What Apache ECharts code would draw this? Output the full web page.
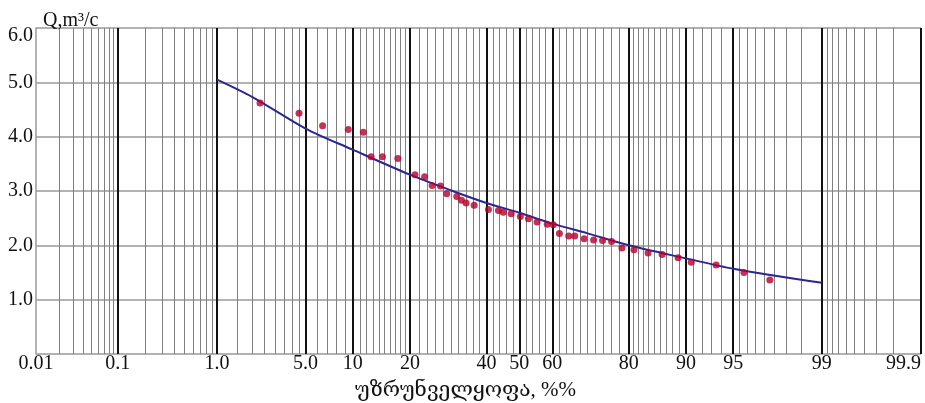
<!DOCTYPE html>
<html>
<head>
<meta charset="utf-8">
<script src="https://cdn.jsdelivr.net/npm/echarts@6/dist/echarts.min.js"></script>
<style>
  html, body { margin: 0; padding: 0; background: #fff; }
  #chart { width: 925px; height: 403px; }
</style>
</head>
<body>
<div id="chart"></div>
<script>
// probability (%) of the labelled grid lines
const labelProbs = [0.01, 0.1, 1, 5, 10, 20, 40, 50, 60, 80, 90, 95, 99, 99.9];
const labelTexts = ['0.01', '0.1', '1.0', '5.0', '10', '20', '40', '50', '60', '80', '90', '95', '99', '99.9'];
// thick lines
const majorProbs = [0.1, 1, 5, 10, 20, 40, 50, 60, 80, 90, 95, 99, 99.9];
// thin lines
const minorProbs = [
  0.02, 0.03, 0.04, 0.05, 0.06, 0.07, 0.08, 0.09,
  0.2, 0.3, 0.4, 0.5, 0.6, 0.7, 0.8, 0.9,
  1.5, 2, 2.5, 3, 3.5, 4, 4.5,
  6, 7, 8, 9,
  11, 12, 13, 14, 15, 16, 17, 18, 19,
  22, 24, 26, 28, 30, 32, 34, 36, 38,
  42, 44, 46, 48, 52, 54, 56, 58,
  62, 64, 66, 68, 70, 72, 74, 76, 78,
  81, 82, 83, 84, 85, 86, 87, 88, 89,
  91, 92, 93, 94,
  95.5, 96, 96.5, 97, 97.5, 98, 98.5,
  99.1, 99.2, 99.3, 99.4, 99.5, 99.6, 99.7, 99.8
];

// observed points
const pointProbs = [
  2.3, 4.5, 6.5, 9.4, 11.5, 12.7, 14.6, 17.5, 21.1, 23.3,
  25.1, 27.2, 28.8, 31.5, 32.8, 34.1, 36.4, 40.6, 43.6, 45.1,
  47.5, 50.3, 52.8, 55.4, 58.5, 60.3, 62.1, 64.8, 66.5, 69.1,
  71.6, 73.9, 76.1, 78.5, 81.1, 83.9, 86.4, 88.9, 90.7, 93.5,
  95.8, 97.3
];
const pointQ = [
  4.62, 4.43, 4.20, 4.13, 4.08, 3.63, 3.63, 3.60, 3.30, 3.26,
  3.10, 3.09, 2.95, 2.90, 2.83, 2.78, 2.74, 2.66, 2.64, 2.61,
  2.58, 2.53, 2.49, 2.43, 2.39, 2.38, 2.22, 2.17, 2.17, 2.12,
  2.10, 2.09, 2.07, 1.95, 1.92, 1.86, 1.83, 1.77, 1.69, 1.64,
  1.50, 1.36
];

// fitted curve
const curveProbs = [1, 2, 5, 10, 20, 30, 40, 50, 60, 70, 80, 90, 95, 99];
const curveQ = [5.05, 4.73, 4.15, 3.76, 3.30, 3.01, 2.78, 2.60, 2.40, 2.22, 2.00, 1.76, 1.57, 1.31];

// normal probability scale: percent -> quantile
function probZ(pct) {
  const p = pct / 100;
  const a = [-3.969683028665376e+01, 2.209460984245205e+02, -2.759285104469687e+02,
             1.383577518672690e+02, -3.066479806614716e+01, 2.506628277459239e+00];
  const b = [-5.447609879822406e+01, 1.615858368580409e+02, -1.556989798598866e+02,
             6.680131188771972e+01, -1.328068155288572e+01];
  const c = [-7.784894002430293e-03, -3.223964580411365e-01, -2.400758277161838e+00,
             -2.549732539343734e+00, 4.374664141464968e+00, 2.938163982698783e+00];
  const d = [7.784695709041462e-03, 3.224671290700398e-01, 2.445134137142996e+00,
             3.754408661907416e+00];
  const plow = 0.02425;
  let q, r;
  if (p < plow) {
    q = Math.sqrt(-2 * Math.log(p));
    return (((((c[0] * q + c[1]) * q + c[2]) * q + c[3]) * q + c[4]) * q + c[5]) /
           ((((d[0] * q + d[1]) * q + d[2]) * q + d[3]) * q + 1);
  }
  if (p <= 1 - plow) {
    q = p - 0.5;
    r = q * q;
    return (((((a[0] * r + a[1]) * r + a[2]) * r + a[3]) * r + a[4]) * r + a[5]) * q /
           (((((b[0] * r + b[1]) * r + b[2]) * r + b[3]) * r + b[4]) * r + 1);
  }
  q = Math.sqrt(-2 * Math.log(1 - p));
  return -(((((c[0] * q + c[1]) * q + c[2]) * q + c[3]) * q + c[4]) * q + c[5]) /
          ((((d[0] * q + d[1]) * q + d[2]) * q + d[3]) * q + 1);
}

const zMin = probZ(labelProbs[0]);
const zMax = probZ(labelProbs[labelProbs.length - 1]);
const labelZ = labelProbs.map(probZ);

const serif = "'Liberation Serif', 'DejaVu Serif', 'DejaVu Sans', serif";

const baseX = {
  type: 'value',
  min: zMin,
  max: zMax,
  position: 'bottom',
  axisLine: { show: false },
  axisTick: { show: false },
  axisLabel: { show: false },
  splitLine: { show: false }
};

const chart = echarts.init(document.getElementById('chart'), null, { renderer: 'canvas' });

chart.setOption({
  animation: false,
  backgroundColor: '#fff',
  grid: { left: 36, right: 4, top: 28, bottom: 49, containLabel: false, outerBoundsMode: 'none' },
  xAxis: [
    Object.assign({}, baseX, {
      name: 'უზრუნველყოფა, %%',
      nameLocation: 'middle',
      nameGap: 26,
      nameTextStyle: { fontFamily: serif, fontSize: 21, color: '#111', padding: [0, 26, 0, 0] },
      axisLabel: {
        show: true,
        customValues: labelZ,
        fontFamily: serif,
        fontSize: 20,
        color: '#111',
        margin: 0,
        alignMaxLabel: 'right',
        formatter: function (v) {
          for (let i = 0; i < labelZ.length; i++) {
            if (Math.abs(labelZ[i] - v) < 1e-9) return labelTexts[i];
          }
          return '';
        }
      }
    }),
    Object.assign({}, baseX, {
      axisTick: { show: false, customValues: minorProbs.map(probZ) },
      splitLine: { show: true, lineStyle: { color: '#808080', width: 1 } }
    }),
    Object.assign({}, baseX, {
      axisTick: { show: false, customValues: majorProbs.map(probZ) },
      splitLine: { show: true, lineStyle: { color: '#111', width: 2 } }
    })
  ],
  yAxis: {
    type: 'value',
    min: 0,
    max: 6,
    interval: 1,
    name: 'Q,m³/c',
    nameLocation: 'end',
    nameGap: -3,
    nameTextStyle: { fontFamily: serif, fontSize: 20, color: '#111', align: 'left', verticalAlign: 'bottom', padding: [0, 0, 0, 7] },
    axisLine: { show: true, onZero: false, lineStyle: { color: '#999', width: 1.5 } },
    axisTick: { show: false },
    axisLabel: {
      showMinLabel: false,
      fontFamily: serif,
      fontSize: 20,
      color: '#111',
      margin: 3,
      formatter: function (v) {
        return v === 6 ? '{t|6.0}' : v.toFixed(1);
      },
      rich: { t: { fontFamily: serif, fontSize: 20, color: '#111', padding: [16, 0, 0, 0] } }
    },
    splitLine: { show: true, lineStyle: { color: '#999', width: 1.5 } }
  },
  series: [
    {
      name: 'curve',
      type: 'line',
      xAxisIndex: 0,
      data: curveProbs.map((p, i) => [probZ(p), curveQ[i]]),
      smooth: 0.3,
      symbol: 'none',
      lineStyle: { color: '#2b2690', width: 2 },
      z: 3
    },
    {
      name: 'points',
      type: 'scatter',
      xAxisIndex: 0,
      data: pointProbs.map((p, i) => [probZ(p), pointQ[i]]),
      symbolSize: 7,
      itemStyle: { color: '#b5002d' },
      z: 4
    }
  ]
});
</script>
</body>
</html>
